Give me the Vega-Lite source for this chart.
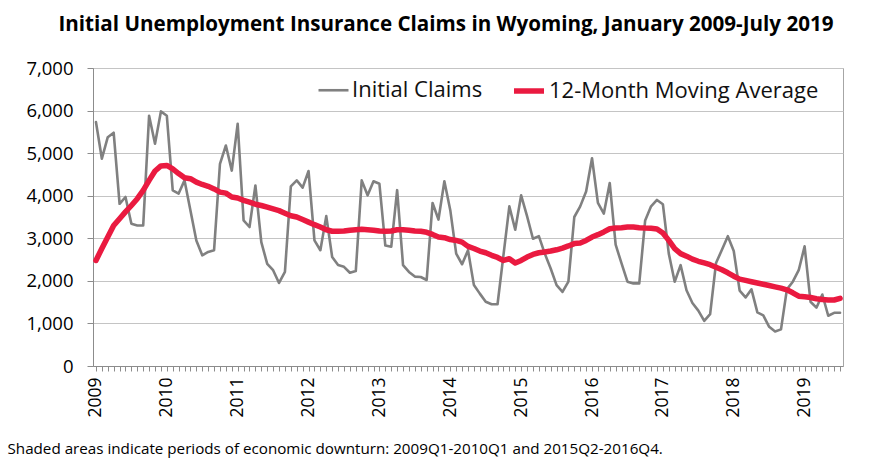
{
  "$schema": "https://vega.github.io/schema/vega-lite/v6.json",
  "width": 750,
  "height": 298,
  "autosize": {"type": "none"},
  "padding": {"left": 93, "top": 68, "right": 27, "bottom": 96},
  "background": "white",
  "title": {
    "text": "Initial Unemployment Insurance Claims in Wyoming, January 2009-July 2019",
    "font": "Open Sans",
    "fontSize": 20.6,
    "fontWeight": "bold",
    "color": "#000000",
    "anchor": "middle",
    "dx": -22,
    "offset": 23
  },
  "data": {
    "values": [
      {"month": "2009-01", "claims": 5730, "ma": 2480},
      {"month": "2009-02", "claims": 4870, "ma": 2760},
      {"month": "2009-03", "claims": 5375, "ma": 3030},
      {"month": "2009-04", "claims": 5480, "ma": 3300},
      {"month": "2009-05", "claims": 3810, "ma": 3460},
      {"month": "2009-06", "claims": 3970, "ma": 3620},
      {"month": "2009-07", "claims": 3340, "ma": 3770},
      {"month": "2009-08", "claims": 3300, "ma": 3930},
      {"month": "2009-09", "claims": 3300, "ma": 4125},
      {"month": "2009-10", "claims": 5880, "ma": 4360},
      {"month": "2009-11", "claims": 5220, "ma": 4580},
      {"month": "2009-12", "claims": 5980, "ma": 4700},
      {"month": "2010-01", "claims": 5880, "ma": 4710},
      {"month": "2010-02", "claims": 4125, "ma": 4630},
      {"month": "2010-03", "claims": 4050, "ma": 4520},
      {"month": "2010-04", "claims": 4360, "ma": 4420},
      {"month": "2010-05", "claims": 3650, "ma": 4400},
      {"month": "2010-06", "claims": 2950, "ma": 4320},
      {"month": "2010-07", "claims": 2600, "ma": 4265},
      {"month": "2010-08", "claims": 2680, "ma": 4220},
      {"month": "2010-09", "claims": 2720, "ma": 4160},
      {"month": "2010-10", "claims": 4750, "ma": 4085},
      {"month": "2010-11", "claims": 5180, "ma": 4060},
      {"month": "2010-12", "claims": 4590, "ma": 3970},
      {"month": "2011-01", "claims": 5690, "ma": 3945},
      {"month": "2011-02", "claims": 3420, "ma": 3890},
      {"month": "2011-03", "claims": 3265, "ma": 3850},
      {"month": "2011-04", "claims": 4240, "ma": 3800},
      {"month": "2011-05", "claims": 2910, "ma": 3770},
      {"month": "2011-06", "claims": 2400, "ma": 3730},
      {"month": "2011-07", "claims": 2250, "ma": 3690},
      {"month": "2011-08", "claims": 1950, "ma": 3650},
      {"month": "2011-09", "claims": 2210, "ma": 3590},
      {"month": "2011-10", "claims": 4220, "ma": 3530},
      {"month": "2011-11", "claims": 4360, "ma": 3500},
      {"month": "2011-12", "claims": 4190, "ma": 3440},
      {"month": "2012-01", "claims": 4580, "ma": 3380},
      {"month": "2012-02", "claims": 2950, "ma": 3320},
      {"month": "2012-03", "claims": 2720, "ma": 3265},
      {"month": "2012-04", "claims": 3520, "ma": 3200},
      {"month": "2012-05", "claims": 2560, "ma": 3165},
      {"month": "2012-06", "claims": 2370, "ma": 3165},
      {"month": "2012-07", "claims": 2330, "ma": 3170},
      {"month": "2012-08", "claims": 2190, "ma": 3190},
      {"month": "2012-09", "claims": 2230, "ma": 3200},
      {"month": "2012-10", "claims": 4360, "ma": 3210},
      {"month": "2012-11", "claims": 4010, "ma": 3200},
      {"month": "2012-12", "claims": 4340, "ma": 3190},
      {"month": "2013-01", "claims": 4280, "ma": 3170},
      {"month": "2013-02", "claims": 2830, "ma": 3165},
      {"month": "2013-03", "claims": 2800, "ma": 3170},
      {"month": "2013-04", "claims": 4130, "ma": 3200},
      {"month": "2013-05", "claims": 2370, "ma": 3200},
      {"month": "2013-06", "claims": 2210, "ma": 3190},
      {"month": "2013-07", "claims": 2100, "ma": 3170},
      {"month": "2013-08", "claims": 2090, "ma": 3165},
      {"month": "2013-09", "claims": 2020, "ma": 3140},
      {"month": "2013-10", "claims": 3830, "ma": 3090},
      {"month": "2013-11", "claims": 3440, "ma": 3030},
      {"month": "2013-12", "claims": 4340, "ma": 3015},
      {"month": "2014-01", "claims": 3660, "ma": 2970},
      {"month": "2014-02", "claims": 2640, "ma": 2950},
      {"month": "2014-03", "claims": 2390, "ma": 2910},
      {"month": "2014-04", "claims": 2720, "ma": 2810},
      {"month": "2014-05", "claims": 1900, "ma": 2760},
      {"month": "2014-06", "claims": 1700, "ma": 2700},
      {"month": "2014-07", "claims": 1510, "ma": 2660},
      {"month": "2014-08", "claims": 1450, "ma": 2600},
      {"month": "2014-09", "claims": 1450, "ma": 2550},
      {"month": "2014-10", "claims": 2600, "ma": 2480},
      {"month": "2014-11", "claims": 3750, "ma": 2520},
      {"month": "2014-12", "claims": 3200, "ma": 2420},
      {"month": "2015-01", "claims": 4010, "ma": 2480},
      {"month": "2015-02", "claims": 3520, "ma": 2560},
      {"month": "2015-03", "claims": 2990, "ma": 2620},
      {"month": "2015-04", "claims": 3050, "ma": 2660},
      {"month": "2015-05", "claims": 2640, "ma": 2680},
      {"month": "2015-06", "claims": 2290, "ma": 2700},
      {"month": "2015-07", "claims": 1900, "ma": 2730},
      {"month": "2015-08", "claims": 1740, "ma": 2770},
      {"month": "2015-09", "claims": 1980, "ma": 2820},
      {"month": "2015-10", "claims": 3500, "ma": 2875},
      {"month": "2015-11", "claims": 3750, "ma": 2890},
      {"month": "2015-12", "claims": 4100, "ma": 2950},
      {"month": "2016-01", "claims": 4880, "ma": 3030},
      {"month": "2016-02", "claims": 3830, "ma": 3085},
      {"month": "2016-03", "claims": 3580, "ma": 3150},
      {"month": "2016-04", "claims": 4300, "ma": 3225},
      {"month": "2016-05", "claims": 2850, "ma": 3240},
      {"month": "2016-06", "claims": 2410, "ma": 3250},
      {"month": "2016-07", "claims": 1980, "ma": 3265},
      {"month": "2016-08", "claims": 1940, "ma": 3265},
      {"month": "2016-09", "claims": 1940, "ma": 3250},
      {"month": "2016-10", "claims": 3420, "ma": 3240},
      {"month": "2016-11", "claims": 3750, "ma": 3235},
      {"month": "2016-12", "claims": 3900, "ma": 3220},
      {"month": "2017-01", "claims": 3800, "ma": 3125},
      {"month": "2017-02", "claims": 2640, "ma": 2950},
      {"month": "2017-03", "claims": 1980, "ma": 2755},
      {"month": "2017-04", "claims": 2370, "ma": 2640},
      {"month": "2017-05", "claims": 1780, "ma": 2580},
      {"month": "2017-06", "claims": 1480, "ma": 2510},
      {"month": "2017-07", "claims": 1300, "ma": 2460},
      {"month": "2017-08", "claims": 1060, "ma": 2420},
      {"month": "2017-09", "claims": 1220, "ma": 2380},
      {"month": "2017-10", "claims": 2420, "ma": 2320},
      {"month": "2017-11", "claims": 2730, "ma": 2260},
      {"month": "2017-12", "claims": 3050, "ma": 2190},
      {"month": "2018-01", "claims": 2700, "ma": 2110},
      {"month": "2018-02", "claims": 1770, "ma": 2040},
      {"month": "2018-03", "claims": 1610, "ma": 2010},
      {"month": "2018-04", "claims": 1800, "ma": 1980},
      {"month": "2018-05", "claims": 1260, "ma": 1950},
      {"month": "2018-06", "claims": 1190, "ma": 1920},
      {"month": "2018-07", "claims": 920, "ma": 1890},
      {"month": "2018-08", "claims": 810, "ma": 1860},
      {"month": "2018-09", "claims": 860, "ma": 1830},
      {"month": "2018-10", "claims": 1800, "ma": 1790},
      {"month": "2018-11", "claims": 1980, "ma": 1720},
      {"month": "2018-12", "claims": 2250, "ma": 1640},
      {"month": "2019-01", "claims": 2810, "ma": 1625},
      {"month": "2019-02", "claims": 1510, "ma": 1610},
      {"month": "2019-03", "claims": 1370, "ma": 1580},
      {"month": "2019-04", "claims": 1680, "ma": 1560},
      {"month": "2019-05", "claims": 1180, "ma": 1550},
      {"month": "2019-06", "claims": 1250, "ma": 1550},
      {"month": "2019-07", "claims": 1250, "ma": 1590}
    ]
  },
  "transform": [
    {"fold": ["claims", "ma"], "as": ["key", "value"]},
    {"lookup": "key", "from": {"data": {"values": [
      {"key": "claims", "series": "Initial Claims", "ord": 0},
      {"key": "ma", "series": "12-Month Moving Average", "ord": 1}
    ]}, "key": "key", "fields": ["series", "ord"]}}
  ],
  "mark": {"type": "line", "strokeCap": "round", "strokeJoin": "round"},
  "encoding": {
    "x": {
      "field": "month",
      "type": "ordinal",
      "sort": null,
      "scale": {"type": "point", "padding": 0.5},
      "axis": {
        "title": "Shaded areas indicate periods of economic downturn: 2009Q1-2010Q1 and 2015Q2-2016Q4.",
        "titleFont": "Open Sans",
        "titleFontSize": 15.2,
        "titleFontWeight": "normal",
        "titleColor": "#000000",
        "titleAnchor": "start",
        "titleAlign": "left",
        "titleBaseline": "alphabetic",
        "titleX": -86,
        "titleY": 87,
        "labelExpr": "substring(datum.value, 5, 7) == '01' ? substring(datum.value, 0, 4) : ''",
        "labelAngle": -90,
        "labelFont": "Open Sans",
        "labelFontSize": 17.5,
        "labelColor": "#000000",
        "labelPadding": 6,
        "labelOverlap": false,
        "labelBound": false,
        "tickSize": 5,
        "tickColor": "#8c8c8c",
        "domainColor": "#8c8c8c",
        "grid": false
      }
    },
    "y": {
      "field": "value",
      "type": "quantitative",
      "scale": {"domain": [0, 7000], "nice": false},
      "axis": {
        "title": null,
        "values": [0, 1000, 2000, 3000, 4000, 5000, 6000, 7000],
        "format": ",.0f",
        "labelFont": "Open Sans",
        "labelFontSize": 18.5,
        "labelColor": "#000000",
        "labelPadding": 14,
        "tickSize": 6,
        "tickColor": "#8c8c8c",
        "domainColor": "#8c8c8c",
        "grid": true,
        "gridColor": "#c4c4c4",
        "gridWidth": 1.2
      }
    },
    "color": {
      "field": "series",
      "type": "nominal",
      "sort": ["Initial Claims", "12-Month Moving Average"],
      "scale": {"domain": ["Initial Claims", "12-Month Moving Average"], "range": ["#808080", "#ea1a40"]},
      "legend": {
        "title": null,
        "orient": "none",
        "legendX": 224,
        "legendY": 5,
        "direction": "horizontal",
        "symbolType": "stroke",
        "symbolSize": 900,
        "symbolStrokeWidth": 3,
        "labelFont": "Open Sans",
        "labelFontSize": 22,
        "labelColor": "#111111",
        "labelLimit": 400,
        "labelOffset": 2,
        "columnPadding": 20,
        "encode": {
          "symbols": {"update": {"strokeWidth": {"signal": "datum.index == 0 ? 3 : 6"}}}
        }
      }
    },
    "strokeWidth": {
      "field": "series",
      "type": "nominal",
      "scale": {"domain": ["Initial Claims", "12-Month Moving Average"], "range": [2.6, 5.5]},
      "legend": null
    },
    "order": {"field": "ord"}
  },
  "config": {
    "view": {"stroke": "#a6a6a6", "strokeWidth": 1}
  }
}
